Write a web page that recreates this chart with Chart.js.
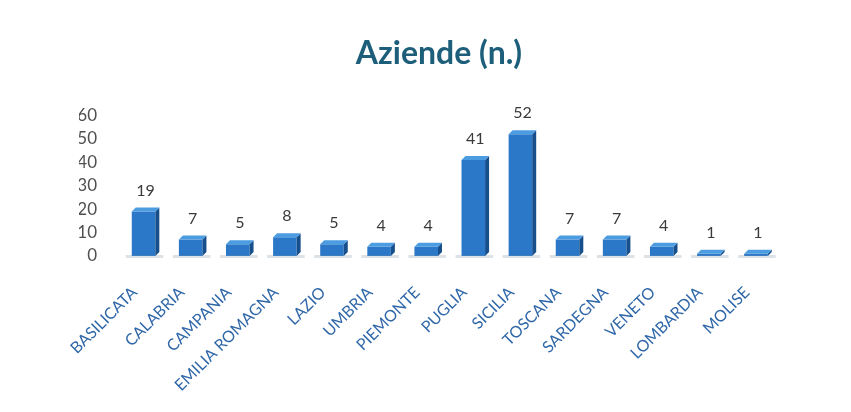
<!DOCTYPE html>
<html>
<head>
<meta charset="utf-8">
<script src="https://cdn.jsdelivr.net/npm/chart.js@4.4.1/dist/chart.umd.min.js"></script>
<style>
  html, body { margin: 0; padding: 0; background: #fff; }
  #wrap { width: 851px; height: 412px; }
</style>
</head>
<body>
<div id="wrap"><canvas id="myChart"></canvas></div>
<script>
const regioni = ["BASILICATA", "CALABRIA", "CAMPANIA", "EMILIA ROMAGNA", "LAZIO", "UMBRIA",
  "PIEMONTE", "PUGLIA", "SICILIA", "TOSCANA", "SARDEGNA", "VENETO", "LOMBARDIA", "MOLISE"];
const aziende = [19, 7, 5, 8, 5, 4, 4, 41, 52, 7, 7, 4, 1, 1];
const yTicks = [0, 10, 20, 30, 40, 50, 60];

// little 3D look: darker right side and lighter top on every bar
const bar3d = {
  id: "bar3d",
  afterDatasetsDraw(chart) {
    const ctx = chart.ctx;
    const meta = chart.getDatasetMeta(0);
    ctx.save();
    meta.data.forEach((bar, i) => {
      const w = bar.width;
      const left = bar.x - w / 2;
      const right = bar.x + w / 2;
      const top = bar.y;
      const base = bar.base;
      const d = 4;
      // shadow on the floor
      ctx.fillStyle = "rgba(120,140,160,0.25)";
      ctx.fillRect(left - 6, base - 1, w + 14, 3);
      // side face
      ctx.fillStyle = "#174f8c";
      ctx.beginPath();
      ctx.moveTo(right, top);
      ctx.lineTo(right + d, top - d);
      ctx.lineTo(right + d, base - d);
      ctx.lineTo(right, base);
      ctx.closePath();
      ctx.fill();
      // top face
      ctx.fillStyle = "#4c9ce2";
      ctx.beginPath();
      ctx.moveTo(left, top);
      ctx.lineTo(left + d, top - d);
      ctx.lineTo(right + d, top - d);
      ctx.lineTo(right, top);
      ctx.closePath();
      ctx.fill();
      // value label
      ctx.fillStyle = "#3a3a3a";
      ctx.font = "16px Lato";
      ctx.textAlign = "center";
      ctx.textBaseline = "middle";
      ctx.fillText(aziende[i], bar.x + 2, top - 21);
    });
    ctx.restore();
  }
};

const ctx = document.getElementById("myChart").getContext("2d");

new Chart(ctx, {
  type: "bar",
  data: {
    labels: regioni,
    datasets: [{
      label: "Aziende (n.)",
      data: aziende,
      backgroundColor: function (c) {
        const area = c.chart.chartArea;
        const el = c.element;
        if (!area || !el || el.width === undefined) return "#2b78c8";
        const g = c.chart.ctx.createLinearGradient(el.x - el.width / 2, 0, el.x + el.width / 2, 0);
        g.addColorStop(0, "#3a8ad6");
        g.addColorStop(0.6, "#236dbf");
        g.addColorStop(1, "#1b5ca6");
        return g;
      },
      borderWidth: 0,
      barPercentage: 0.5,
      categoryPercentage: 1
    }]
  },
  options: {
    responsive: true,
    maintainAspectRatio: false,
    animation: false,
    layout: { padding: { left: 79, right: 52, top: 34, bottom: 0 } },
    plugins: {
      legend: { display: false },
      tooltip: { enabled: false },
      title: {
        display: true,
        text: "Aziende (n.)",
        color: "#1d5e7a",
        font: { family: "Lato", size: 32, weight: "bold" },
        padding: { top: 0, bottom: 43 }
      }
    },
    scales: {
      x: {
        grid: { display: false, drawTicks: false },
        border: { display: false },
        afterFit: scale => {
          scale.paddingLeft = 0;
          scale.paddingRight = 71.5;
          scale.height = 156;
        },
        ticks: {
          color: "#2f67a8",
          font: { family: "Lato", size: 16 },
          maxRotation: 45,
          minRotation: 45,
          autoSkip: false,
          labelOffset: -9,
          padding: 27
        }
      },
      y: {
        min: 0,
        max: 60,
        grid: { display: false, drawTicks: false },
        border: { display: false },
        afterBuildTicks: axis => {
          axis.ticks = yTicks.map(v => ({ value: v }));
        },
        afterFit: scale => {
          scale.width = 41;
        },
        ticks: {
          color: "#505050",
          font: { family: "Lato", size: 17 },
          autoSkip: false,
          padding: 23
        }
      }
    }
  },
  plugins: [bar3d]
});
</script>
</body>
</html>
